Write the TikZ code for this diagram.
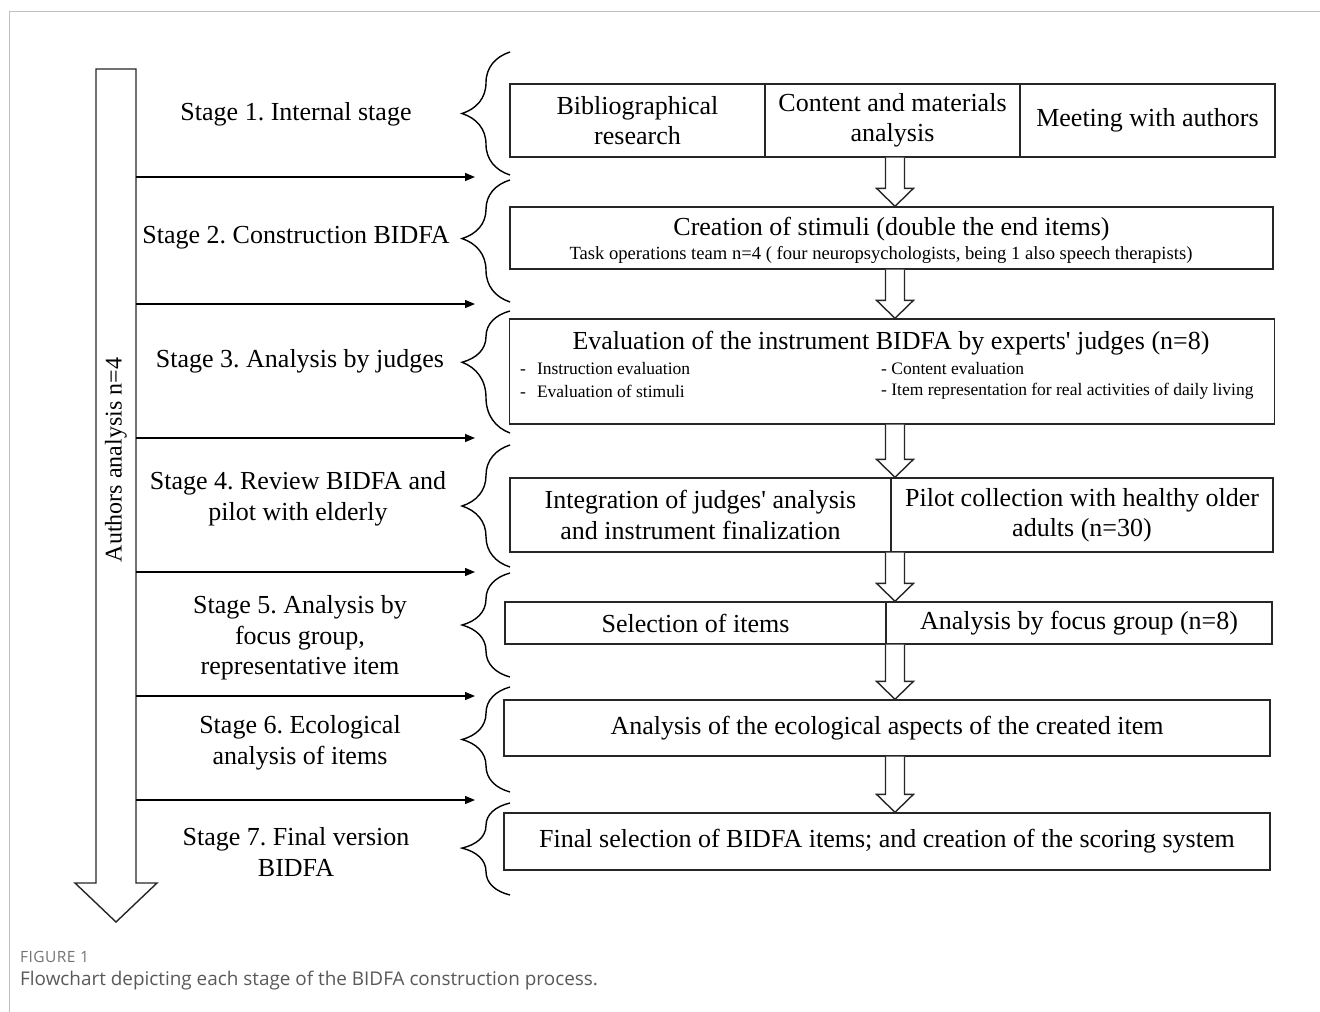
\documentclass[tikz,border=0pt]{standalone}
\usepackage{fontspec}
\setmainfont{Liberation Serif}
\newfontfamily\capfont{Open Sans}
\usetikzlibrary{arrows.meta,decorations.pathreplacing,calc}
\frenchspacing

% block arrow between two boxes, at the x of (ax)
\newcommand\hollowdown[2]{%
  \draw[hollow] let \p1=(ax |- #1.south), \p2=(ax |- #2.north) in
    ({\x1-9.5pt},{\y1}) -- ({\x1-9.5pt},{\y2+18pt}) -- ({\x1-18.5pt},{\y2+18pt})
    -- (\x2,\y2) -- ({\x1+18.5pt},{\y2+18pt}) -- ({\x1+9.5pt},{\y2+18pt}) -- ({\x1+9.5pt},{\y1});}

\begin{document}
\begin{tikzpicture}[x=1pt,y=-1pt,
  box/.style={draw=black!85,line width=1.4pt,inner sep=0pt,align=center,
    font=\fontsize{26}{30.5}\selectfont},
  stagetxt/.style={align=center,inner sep=0pt,font=\fontsize{26}{30.5}\selectfont},
  small/.style={inner sep=0pt,font=\fontsize{17.5}{21}\selectfont},
  brace/.style={decorate,decoration={brace,amplitude=48pt,aspect=#1},line width=1.4pt},
  brace/.default=0.5,
  flow/.style={line width=1.3pt,-{Triangle[length=10pt,width=8pt]}},
  hollow/.style={line width=1.4pt,draw=black!85,fill=white}]
\useasboundingbox (0,0) rectangle (1320,1012);
\draw[black!25,line width=1pt] (9,1012) -- (9,11) -- (1320,11); % frame

% big arrow on the left
\draw[hollow] (96,69) -- (136,69) -- (136,883) -- (157,883) -- (116,922) -- (75,883) -- (96,883) -- cycle;
\node[rotate=90,inner sep=0pt,font=\fontsize{24}{28}\selectfont] (auth) at (116,460) {Authors analysis n=4};

\foreach \y [count=\i] in {177,304,438,572,696,800} {
  \coordinate (l\i) at (136,\y);
  \coordinate (r\i) at (475,\y);
  \draw[flow] (l\i) -- (r\i);
}

% stage labels
\node[stagetxt] (st1) at (296,114) {Stage 1. Internal stage};
\node[stagetxt] (st2) at (296,238) {Stage 2. Construction BIDFA};
\node[stagetxt] (st3) at (300,361) {Stage 3. Analysis by judges};
\node[stagetxt] (st4) at (298,499) {Stage 4. Review BIDFA and\\pilot with elderly};
\node[stagetxt] (st5) at (300,638) {Stage 5. Analysis by\\focus group,\\representative item};
\node[stagetxt] (st6) at (300,743) {Stage 6. Ecological\\analysis of items};
\node[stagetxt] (st7) at (296,852) {Stage 7. Final version\\BIDFA};

% braces
\foreach \t/\b/\a in {52/175/0.5, 180/302/0.52, 311/433/0.58, 445/567/0.5, 573/677/0.5, 687/792/0.5, 803/895/0.51}
  \draw[brace=\a] (510,\b) -- (510,\t);

% boxes
\node[box,minimum width=255pt,minimum height=73pt] (bib) at (637.5,120.5) {Bibliographical\\research};
\node[box,minimum width=255pt,minimum height=73pt] (cont) at (892.5,120.5) {Content and materials\\analysis};
\node[box,minimum width=255pt,minimum height=73pt] (meet) at (1147.5,120.5) {Meeting with authors};

\node[box,minimum width=763pt,minimum height=62pt] (stim) at (891.5,238) {};
\node[stagetxt] (stimt) at (891.5,229) {Creation of stimuli (double the end items)};
\node[small,font=\fontsize{18.6}{22}\selectfont] (team) at (881,255) {Task operations team n=4 ( four neuropsychologists, being 1 also speech therapists)};

\node[box,minimum width=765pt,minimum height=105pt] (eval) at (892,371.5) {};
\node[stagetxt] (evalt) at (891,343) {Evaluation of the instrument BIDFA by experts\textquotesingle\ judges (n=8)};
\node[small,anchor=west] (b1) at (520,369) {-\hspace{11pt}Instruction evaluation};
\node[small,anchor=west] (b2) at (520,391) {-\hspace{11pt}Evaluation of stimuli};
\node[small,anchor=west] (b3) at (881,369) {- Content evaluation};
\node[small,anchor=west] (b4) at (881,391) {- Item representation for real activities of daily living};

\node[box,minimum width=381pt,minimum height=74pt] (integ) at (700.5,515) {Integration of judges\textquotesingle\ analysis\\and instrument finalization};
\node[box,minimum width=382pt,minimum height=74pt] (pilot) at (1082,515) {Pilot collection with healthy older\\adults (n=30)};

\node[box,minimum width=381pt,minimum height=42pt] (sel) at (695.5,623) {Selection of items};
\node[box,minimum width=386pt,minimum height=42pt] (focus) at (1079,623) {Analysis by focus group (n=8)};

\node[box,minimum width=766pt,minimum height=56pt] (eco) at (887,728) {Analysis of the ecological aspects of the created item};
\node[box,minimum width=766pt,minimum height=57pt] (final) at (887,841.5) {Final selection of BIDFA items; and creation of the scoring system};

% block arrows
\coordinate (ax) at (895,0);
\hollowdown{cont}{stim}
\hollowdown{stim}{eval}
\hollowdown{eval}{pilot}
\hollowdown{pilot}{focus}
\hollowdown{focus}{eco}
\hollowdown{eco}{final}

% caption
\node[anchor=west,inner sep=0pt,text=black!55,font=\capfont\fontsize{15.5}{18}\selectfont\addfontfeatures{LetterSpace=3}] (figlab) at (20,957) {FIGURE 1};
\node[anchor=west,inner sep=0pt,text=black!65,font=\capfont\fontsize{18.9}{22}\selectfont] (caption) at (20,981) {Flowchart depicting each stage of the BIDFA construction process.};
\end{tikzpicture}
\end{document}
